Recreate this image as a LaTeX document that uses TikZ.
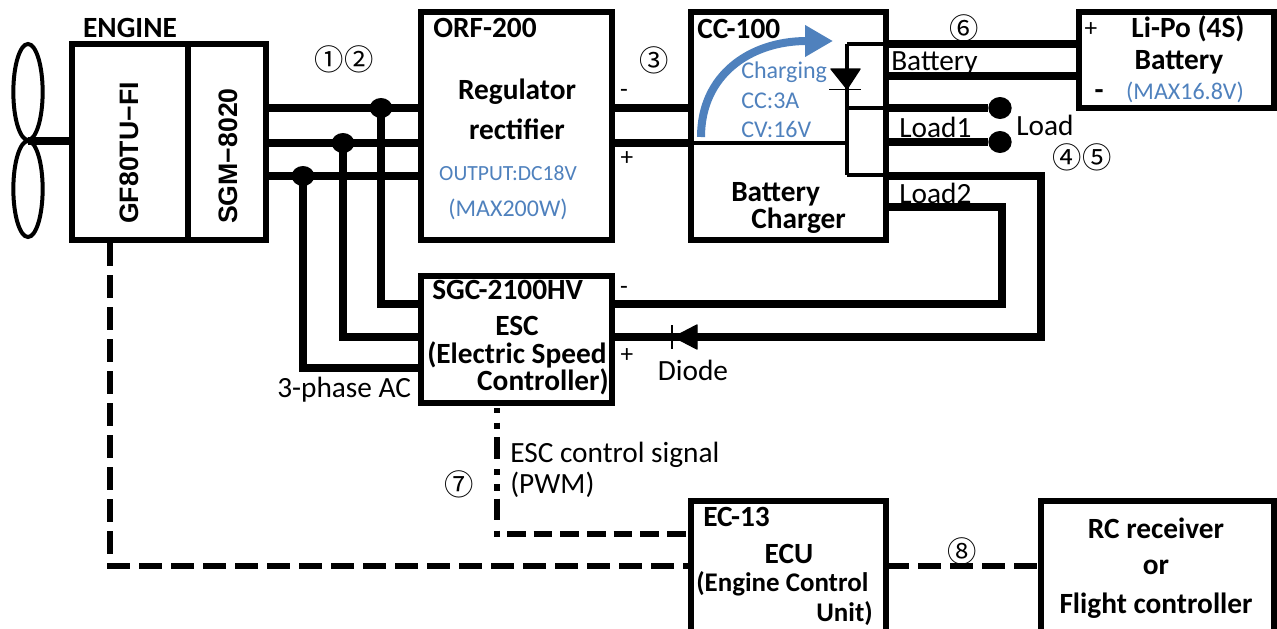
\documentclass[tikz,border=0pt]{standalone}
\usepackage{fontspec}
\setmainfont{Carlito}
\newfontfamily\circfont{Noto Sans CJK JP}
\newfontfamily\gothfont{Liberation Sans}[BoldFont={Liberation Sans Bold}]
\usetikzlibrary{arrows.meta,calc,shapes.geometric}
\definecolor{chargeblue}{HTML}{4F81BD}
\newcommand{\fs}[1]{\fontsize{#1}{#1}\selectfont}
\tikzset{
  x=0.75pt,y=-0.75pt,
  box/.style={draw=black,line width=3.9pt,fill=none,rectangle,inner sep=0pt,outer sep=0pt},
  wire/.style={line width=5.7pt,line cap=butt,line join=miter},
  thinwire/.style={line width=3.2pt,line join=miter},
  ctlline/.style={line width=4.2pt,dash pattern=on 17pt off 7pt},
  pwmline/.style={line width=4.2pt,dash pattern=on 4pt off 7pt on 5pt off 6pt on 16pt off 8pt},
  dotjoin/.style={ellipse,fill=black,inner sep=0pt,minimum width=17pt,minimum height=15pt},
  blade/.style={draw=black,line width=3pt,fill=none},
  ttl/.style={font=\bfseries\fs{22},inner sep=0pt},
  lbl/.style={font=\fs{22},inner sep=0pt},
  val/.style={font=\fs{18},text=chargeblue,inner sep=0pt},
  num/.style={font=\circfont\fs{22},inner sep=0pt},
  sgn/.style={font=\fs{19},inner sep=0pt},
  rot/.style={font=\gothfont\bfseries\fs{20},rotate=90,inner sep=0pt},
}
\begin{document}
\begin{tikzpicture}
\useasboundingbox (0,0) rectangle (1277,628);
\clip (0,0) rectangle (1277,628);
% boxes
\node[box,minimum width=116*0.75pt,minimum height=196*0.75pt] (eng) at (130,142) {};
\node[box,minimum width=78*0.75pt,minimum height=196*0.75pt] (gen) at (227,142) {};
\node[box,minimum width=191*0.75pt,minimum height=228*0.75pt] (orf) at (516.5,126) {};
\node[box,minimum width=195*0.75pt,minimum height=228*0.75pt] (cc) at (788.5,126) {};
\node[box,minimum width=195*0.75pt,minimum height=96*0.75pt] (lipo) at (1176.5,60) {};
\node[box,minimum width=191*0.75pt,minimum height=127*0.75pt] (esc) at (516.5,339.5) {};
\node[box,minimum width=195*0.75pt,minimum height=160*0.75pt] (ecu) at (788.5,581) {};
\node[box,minimum width=233*0.75pt,minimum height=160*0.75pt] (rc) at (1157.5,581) {};
% propeller
\node[blade,ellipse,minimum width=22pt,minimum height=72pt,inner sep=0pt] (bladeA) at (28,92) {};
\node[blade,ellipse,minimum width=22pt,minimum height=72pt,inner sep=0pt] (bladeB) at (28,189) {};
\coordinate (hub) at (28,141);
\draw[wire] (hub) -- (eng.west |- hub);
% coordinates
\coordinate (ya) at (0,108); \coordinate (yb) at (0,143); \coordinate (yc) at (0,176);
\coordinate (ja) at (381,108); \coordinate (jb) at (343,143); \coordinate (jc) at (303,176);
\coordinate (ea) at (381,304); \coordinate (eb) at (343,337); \coordinate (ec) at (303,368);
% three-phase
\draw[wire] (gen.east |- ya) -- (orf.west |- ya);
\draw[wire] (gen.east |- yb) -- (orf.west |- yb);
\draw[wire] (gen.east |- yc) -- (orf.west |- yc);
\draw[wire] (ja) -- (ea) -- (esc.west |- ea);
\draw[wire] (jb) -- (eb) -- (esc.west |- eb);
\draw[wire] (jc) -- (ec) -- (esc.west |- ec);
\node[dotjoin] (da) at (ja) {};
\node[dotjoin] (db) at (jb) {};
\node[dotjoin] (dc) at (jc) {};
% rectifier to charger
\draw[wire] (orf.east |- ya) -- (cc.west |- ya);
\draw[wire] (orf.east |- yb) -- (cc.west |- yb);
% charger internals
\coordinate (busT) at (847,44);
\coordinate (busB) at (847,175);
\coordinate (busL) at (847,108);
\coordinate (busP) at (847,143);
\draw[thinwire] (busT) -- (busB);
\draw[thinwire] (busT) -- (cc.east |- busT);
\draw[thinwire] (busL) -- (cc.east |- busL);
\draw[thinwire] (busB) -- (cc.east |- busB);
\draw[thinwire] (cc.west |- busP) -- (busP);
% battery
\coordinate (batA) at (0,44); \coordinate (batB) at (0,76);
\draw[wire] (cc.east |- batA) -- (lipo.west |- batA);
\draw[wire] (cc.east |- batB) -- (lipo.west |- batB);
% load
\node[dotjoin,minimum width=17.5pt,minimum height=16.5pt] (la) at (1000,108) {};
\node[dotjoin,minimum width=17.5pt,minimum height=16.5pt] (lb) at (1000,142) {};
\draw[wire] (cc.east |- la) -- (la);
\draw[wire] (cc.east |- lb) -- (lb);
% load 2
\coordinate (lmA) at (1002,207); \coordinate (lmB) at (1002,304);
\draw[wire] (cc.east |- lmA) -- (lmA) -- (lmB) -- (esc.east |- lmB);
\coordinate (lpA) at (1041,176); \coordinate (lpB) at (1041,337);
\draw[wire] (cc.east |- lpA) -- (lpA) -- (lpB) -- (esc.east |- lpB);
% control lines
\coordinate (enT) at (110,243); \coordinate (enC) at (110,566);
\draw[ctlline] (enT) -- (enC) -- (ecu.west |- enC);
\coordinate (pwT) at (497,408); \coordinate (pwC) at (497,534);
\draw[pwmline] (pwT) -- (pwC);
\draw[line width=4.2pt,dash pattern=on 14pt off 6pt] ($(pwC)+(10,0)$) -- (ecu.west |- pwC);
\fill ($(pwC)+(-3,-3)$) rectangle ($(pwC)+(3,3)$);
\draw[ctlline] (ecu.east |- enC) -- (rc.west |- enC);
% diodes
\fill[line join=round,draw=black,line width=1pt] (847,89) -- (831,69) -- (860,69) -- cycle;
\draw[line width=1.2pt] (829,89.5) -- (861,89.5);
\fill[line join=round,draw=black,line width=1pt] (674,337) -- (697,325) -- (697,349) -- cycle;
\draw[line width=1.2pt] (672,325) -- (672,349);
% charging arrow
\coordinate (chgA) at (701,137); \coordinate (chgB) at (833,41);
\draw[chargeblue,line width=6pt,-{Triangle[length=21pt,width=22.5pt]}] (chgA) .. controls (701,75) and (750,41) .. (chgB);
% text
\node[ttl] (tEngine) at (130,28) {ENGINE};
\node[rot] (tGf) at (129,153) {GF80TU−FI};
\node[rot] (tSgm) at (228,156) {SGM−8020};
\node[num] (n12) at (344,59) {①②};
\node[ttl,anchor=west] (tOrf) at (433,28) {ORF-200};
\node[ttl] (tReg) at (517,92) {Regulator};
\node[ttl] (tRec) at (517,129) {rectifier};
\node[val,font=\fs{16.2}] (tOut) at (508,173) {OUTPUT:DC18V};
\node[val] (tMax) at (508,209) {(MAX200W)};
\node[num] (n3) at (654,60) {③};
\node[sgn] (sa) at (624,93) {-};
\node[sgn] (sb) at (627,159) {+};
\node[ttl,anchor=west] (tCc) at (697,29) {CC-100};
\node[val,anchor=west] (tChg) at (741,72) {Charging};
\node[val,anchor=west] (tCca) at (741,101) {CC:3A};
\node[val,anchor=west] (tCcv) at (741,129) {CV:16V};
\node[ttl,anchor=west] (tBc) at (731,194) {Battery};
\node[ttl,anchor=west] (tBd) at (751,221) {Charger};
\node[num] (n6) at (964,28) {⑥};
\node[lbl,anchor=west] (tBat) at (891,63) {Battery};
\node[lbl,anchor=west] (tLa) at (899,127) {Load1};
\node[lbl,anchor=west] (tLb) at (899,193) {Load2};
\node[lbl,anchor=west] (tLoad) at (1016,125) {Load};
\node[num] (n45) at (1082,157) {④⑤};
\node[sgn] (sc) at (1091,30) {+};
\node[ttl] (sd) at (1099,95) {-};
\node[ttl] (tLi) at (1188,29) {Li-Po (4S)};
\node[ttl] (tLb2) at (1179,62) {Battery};
\node[val] (tMx) at (1185,92) {(MAX16.8V)};
\node[ttl,anchor=west] (tSgc) at (432,290) {SGC-2100HV};
\node[ttl] (tEsc) at (517,326) {ESC};
\node[ttl,anchor=west] (tEl) at (427,355) {(Electric Speed};
\node[ttl,anchor=east] (tCt) at (609,382) {Controller)};
\node[sgn] (se) at (624,290) {-};
\node[sgn] (sf) at (627,356) {+};
\node[lbl] (tDi) at (693,370) {Diode};
\node[lbl,anchor=west] (tAc) at (277,390) {3-phase AC};
\node[lbl,anchor=west] (tSig) at (510,455) {ESC control signal};
\node[lbl,anchor=west] (tPwm) at (510,485) {(PWM)};
\node[num] (n7) at (459,484) {⑦};
\node[ttl,anchor=west] (tEc) at (703,517) {EC-13};
\node[ttl] (tEcu) at (789,554) {ECU};
\node[ttl,font=\bfseries\fs{20.2},anchor=west] (tEn) at (696,584) {(Engine Control};
\node[ttl,font=\bfseries\fs{20.2},anchor=east] (tUn) at (873,614) {Unit)};
\node[num] (n8) at (962,551) {⑧};
\node[ttl] (tRc) at (1156,528) {RC receiver};
\node[ttl] (tOr) at (1156,567) {or};
\node[ttl] (tFc) at (1156,606) {Flight controller};
\end{tikzpicture}
\end{document}
